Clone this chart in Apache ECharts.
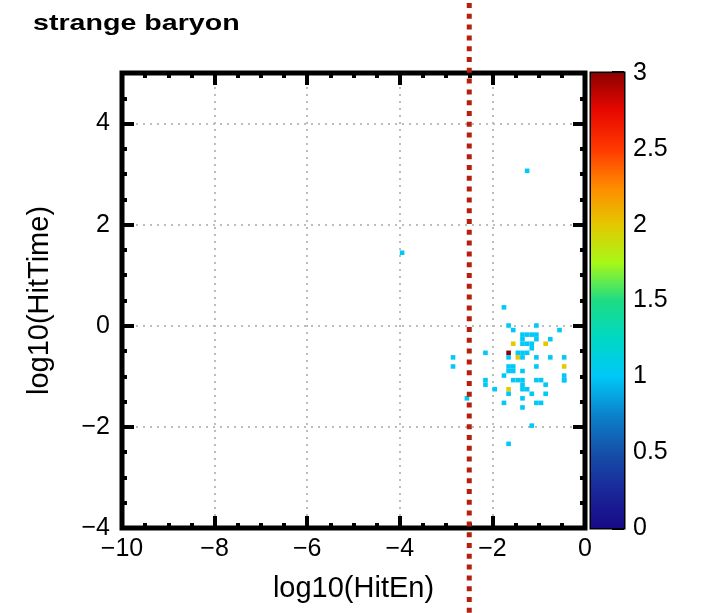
<!DOCTYPE html>
<html>
<head>
<meta charset="utf-8">
<script src="https://cdn.jsdelivr.net/npm/echarts@6/dist/echarts.min.js"></script>
<style>
  html, body { margin: 0; padding: 0; background: #ffffff; }
  #chart { width: 712px; height: 613px; }
</style>
</head>
<body>
<div id="chart"></div>
<script>
// Labels
const titleText = 'strange baryon';
const xName = 'log10(HitEn)';
const yName = 'log10(HitTime)';

// Histogram ranges and binning (100 x 100 bins)
const xRange = [-10, 0];
const yRange = [-4, 5];
const binW = 0.1;
const binH = 0.09;

// Energy cut drawn as a vertical line
const cutValue = -2.5;

// Filled bins: log10(HitEn), log10(HitTime), entries
const hitEn = [
  -1.30, -3.96, -1.66, -2.52, -2.88, -2.88, -2.12, -2.20, -2.20, -1.80,
  -1.68, -1.02, -0.56, -1.51,
  -1.40, -1.30, -1.20, -1.02, -1.02, -0.80,
  -1.51, -0.90, -1.40, -1.40, -1.30, -1.20,
  -1.50, -1.40, -1.30, -1.20, -1.65,
  -1.66, -1.48, -1.40, -1.02, -0.80, -0.48,
  -1.65, -1.65, -1.55, -1.55, -1.32, -1.03, -0.41,
  -1.78, -1.60, -1.50, -1.40, -1.40, -1.40,
  -1.92, -1.68, -1.68, -1.22, -1.12, -1.02, -0.92, -0.82, -0.82,
  -0.50, -0.50, -0.41, -1.40, -1.80, -1.08, -1.00, -1.40, -1.19
];
const hitTime = [
   3.09,  1.46, -2.32, -1.45, -0.61, -0.80, -0.53, -1.10, -1.20,  0.37,
   0.02,  0.02, -0.08, -0.09,
  -0.19, -0.19, -0.19, -0.17, -0.26, -0.25,
  -0.33, -0.33, -0.28, -0.37, -0.37, -0.37,
  -0.50, -0.50, -0.50, -0.46, -0.55,
  -0.61, -0.62, -0.66, -0.61, -0.61, -0.60,
  -0.78, -0.87, -0.78, -0.87, -0.89, -0.78, -0.79,
  -1.03, -1.04, -1.04, -1.04, -1.13, -1.22,
  -1.23, -1.23, -1.33, -1.23, -1.32, -1.12, -1.04, -1.13, -1.33,
  -0.97, -1.06, -1.12, -1.45, -1.51, -1.51, -1.51, -1.66, -1.94
];
const counts = [
  1, 1, 1, 1, 1, 1, 1, 1, 1, 1,
  1, 1, 1, 1,
  1, 1, 1, 1, 1, 1,
  2, 2, 1, 1, 1, 1,
  1, 1, 1, 1, 3,
  1, 2, 1, 1, 1, 1,
  1, 1, 1, 1, 1, 1, 2,
  1, 1, 1, 1, 1, 1,
  1, 2, 1, 1, 1, 1, 1, 1, 1,
  1, 1, 1, 1, 1, 1, 1, 1, 1
];

// Colour scale
const zRange = [0, 3];
const palette = [
  '#170a88', '#1a2898', '#1550aa', '#0a84cc', '#00c8f8', '#00d8c4', '#1edc84',
  '#a8f818', '#e4c800', '#ff8a00', '#ff3800', '#e80800', '#8e0000'
];

const cells = hitEn.map((x, i) => [x, hitTime[i], counts[i]]);
const minus = v => String(v).replace('-', '\u2212');
const FONT = 'Liberation Sans';

const chart = echarts.init(document.getElementById('chart'), null, { renderer: 'canvas' });

const noLine = { show: false, onZero: false };
const majorTick = { show: true, inside: true, length: 12, lineStyle: { color: '#000', width: 4 } };
const minorTickOnly = { show: true, inside: true, length: 5, lineStyle: { color: '#000', width: 4 } };
const gridDots = {
  show: true, showMinLine: false, showMaxLine: false,
  lineStyle: { color: '#bdbdbd', width: 2, type: [2, 5] }
};

const option = {
  animation: false,
  backgroundColor: '#ffffff',
  graphic: [{
    type: 'text',
    x: 33, y: 13,
    scaleX: 1.3,
    style: {
      text: titleText,
      fill: '#000',
      fontFamily: FONT,
      fontWeight: 'bold',
      fontSize: 22,
      align: 'left',
      verticalAlign: 'top'
    }
  }],
  visualMap: {
    show: false,
    type: 'continuous',
    seriesIndex: 0,
    dimension: 2,
    min: zRange[0],
    max: zRange[1],
    inRange: { color: palette }
  },
  grid: [
    { left: 122, right: 127, top: 73, bottom: 85, show: true, borderColor: '#000', borderWidth: 5, backgroundColor: 'transparent' },
    { left: 591, width: 33, top: 73, bottom: 85, show: true, borderColor: '#000', borderWidth: 3, backgroundColor: 'transparent' }
  ],
  xAxis: [
    {
      gridIndex: 0, type: 'value', position: 'bottom',
      min: xRange[0], max: xRange[1], interval: 2,
      axisLine: noLine,
      axisTick: majorTick,
      minorTick: { show: true, splitNumber: 4, length: 5, lineStyle: { color: '#000', width: 4 } },
      axisLabel: { color: '#000', fontFamily: FONT, fontSize: 25, margin: 9, formatter: minus },
      splitLine: gridDots,
      name: xName, nameLocation: 'middle', nameGap: 46,
      nameTextStyle: { color: '#000', fontFamily: FONT, fontSize: 29 }
    },
    {
      gridIndex: 0, type: 'value', position: 'top',
      min: xRange[0], max: xRange[1], interval: 2,
      axisLine: noLine,
      axisTick: majorTick,
      minorTick: { show: true, splitNumber: 4, length: 5, lineStyle: { color: '#000', width: 4 } },
      axisLabel: { show: false },
      splitLine: { show: false }
    },
    { gridIndex: 1, type: 'category', data: [''], show: false }
  ],
  yAxis: [
    {
      gridIndex: 0, type: 'value', position: 'left',
      min: yRange[0], max: yRange[1], interval: 2,
      axisLine: noLine,
      axisTick: majorTick,
      axisLabel: { color: '#000', fontFamily: FONT, fontSize: 25, margin: 12, formatter: minus, showMaxLabel: false },
      splitLine: gridDots,
      name: yName, nameLocation: 'middle', nameGap: 68, nameRotate: 90,
      nameTextStyle: { color: '#000', fontFamily: FONT, fontSize: 29 }
    },
    {
      gridIndex: 0, type: 'value', position: 'left',
      min: yRange[0], max: yRange[1], interval: 0.5,
      axisLine: noLine, axisTick: minorTickOnly,
      axisLabel: { show: false }, splitLine: { show: false }
    },
    {
      gridIndex: 0, type: 'value', position: 'right',
      min: yRange[0], max: yRange[1], interval: 2,
      axisLine: noLine, axisTick: majorTick,
      axisLabel: { show: false }, splitLine: { show: false }
    },
    {
      gridIndex: 0, type: 'value', position: 'right',
      min: yRange[0], max: yRange[1], interval: 0.5,
      axisLine: noLine, axisTick: minorTickOnly,
      axisLabel: { show: false }, splitLine: { show: false }
    },
    {
      gridIndex: 1, type: 'value', position: 'right',
      min: zRange[0], max: zRange[1], interval: 0.5,
      axisLine: noLine,
      axisTick: majorTick,
      axisLabel: { color: '#000', fontFamily: FONT, fontSize: 25, margin: 9 },
      splitLine: { show: false }
    }
  ],
  series: [
    {
      // 2D histogram bins
      type: 'custom',
      xAxisIndex: 0, yAxisIndex: 0,
      data: cells,
      encode: { x: 0, y: 1 },
      renderItem(params, api) {
        const x = api.value(0), y = api.value(1);
        const x0 = xRange[0] + Math.floor((x - xRange[0]) / binW + 1e-9) * binW;
        const y0 = yRange[0] + Math.floor((y - yRange[0]) / binH + 1e-9) * binH;
        const p0 = api.coord([x0, y0 + binH]);
        const p1 = api.coord([x0 + binW, y0]);
        return {
          type: 'rect',
          shape: { x: p0[0], y: p0[1], width: p1[0] - p0[0], height: p1[1] - p0[1] },
          style: { fill: api.visual('color') }
        };
      },
      z: 3
    },
    {
      // colour scale bar
      type: 'bar',
      xAxisIndex: 2, yAxisIndex: 4,
      data: [zRange[1]],
      barWidth: '100%',
      silent: true,
      itemStyle: {
        color: new echarts.graphic.LinearGradient(0, 1, 0, 0,
          palette.map((c, i) => ({ offset: i / (palette.length - 1), color: c })))
      },
      z: 1
    },
    {
      // energy cut line
      type: 'custom',
      xAxisIndex: 0, yAxisIndex: 0,
      data: [[cutValue, 0]],
      clip: false,
      silent: true,
      renderItem(params, api) {
        const px = api.coord([api.value(0), api.value(1)])[0];
        return {
          type: 'line',
          shape: { x1: px, y1: 0, x2: px, y2: api.getHeight() },
          style: { stroke: '#b5200d', lineWidth: 5, lineDash: [5, 5.8], lineDashOffset: -3 }
        };
      },
      z: 10
    }
  ]
};

chart.setOption(option);
</script>
</body>
</html>
